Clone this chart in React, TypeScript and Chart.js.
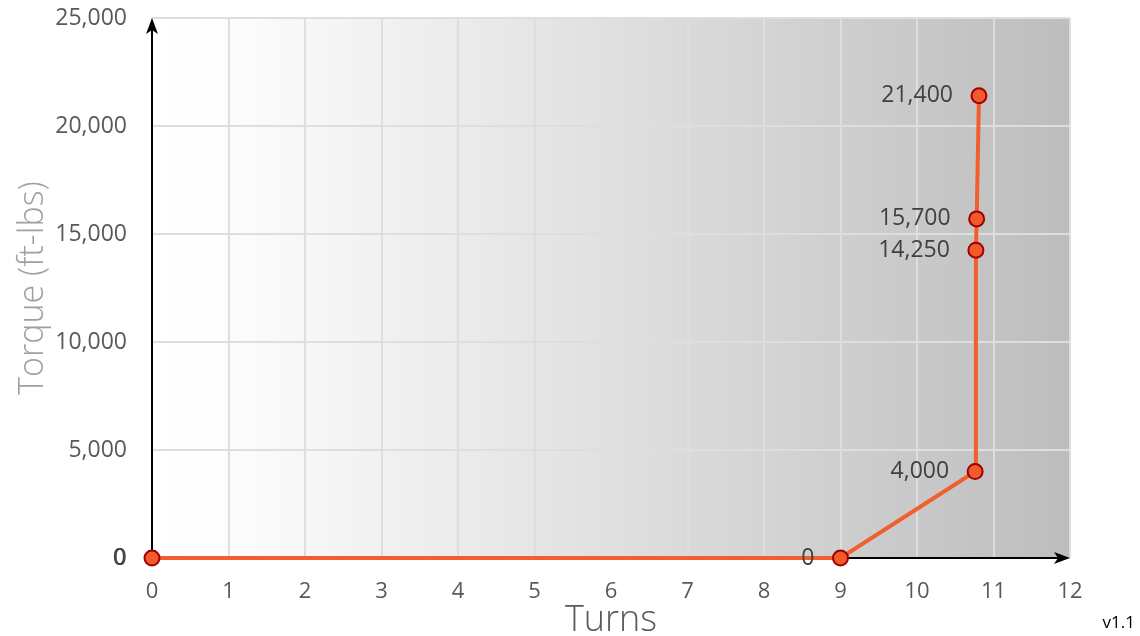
import React, { useEffect, useRef } from "react";
import { Chart, registerables } from "chart.js";

Chart.register(...registerables);

const turns = [0, 9, 10.76, 10.77, 10.78, 10.81];
const torque = [0, 0, 4000, 14250, 15700, 21400];
const xTicks = [0, 1, 2, 3, 4, 5, 6, 7, 8, 9, 10, 11, 12];
const yTicks = [0, 5000, 10000, 15000, 20000, 25000];
const xTitle = "Turns";
const yTitle = "Torque (ft-lbs)";
const versionText = "v1.1";

const FONT = "'Open Sans', 'DejaVu Sans', sans-serif";

const bgPlugin = {
  id: "bgGradient",
  beforeDraw(chart: any) {
    const { ctx, chartArea: a } = chart;
    ctx.save();
    const g = ctx.createLinearGradient(a.left, 0, a.right, 0);
    g.addColorStop(0, "#ffffff");
    g.addColorStop(0.08, "#fdfdfd");
    g.addColorStop(1, "#bdbdbd");
    ctx.fillStyle = g;
    ctx.fillRect(a.left, a.top, a.right - a.left, a.bottom - a.top);
    ctx.restore();
  },
};

const arrowsPlugin = {
  id: "arrows",
  beforeDatasetsDraw(chart: any) {
    const { ctx, chartArea: a } = chart;
    const x0 = chart.scales.x.getPixelForValue(0);
    const y0 = chart.scales.y.getPixelForValue(0);
    ctx.save();
    ctx.strokeStyle = "#000";
    ctx.fillStyle = "#000";
    ctx.lineWidth = 2;
    ctx.beginPath();
    ctx.moveTo(x0, y0);
    ctx.lineTo(x0, a.top + 10);
    ctx.moveTo(x0, y0);
    ctx.lineTo(a.right - 10, y0);
    ctx.stroke();
    ctx.beginPath();
    ctx.moveTo(x0, a.top);
    ctx.lineTo(x0 - 6, a.top + 16);
    ctx.lineTo(x0, a.top + 12);
    ctx.lineTo(x0 + 6, a.top + 16);
    ctx.closePath();
    ctx.fill();
    ctx.beginPath();
    ctx.moveTo(a.right, y0);
    ctx.lineTo(a.right - 16, y0 - 6);
    ctx.lineTo(a.right - 12, y0);
    ctx.lineTo(a.right - 16, y0 + 6);
    ctx.closePath();
    ctx.fill();
    ctx.restore();
  },
};

const labelsPlugin = {
  id: "labels",
  afterDatasetsDraw(chart: any) {
    const { ctx, chartArea: a } = chart;
    const meta = chart.getDatasetMeta(0);
    ctx.save();
    ctx.font = `23px ${FONT}`;
    ctx.fillStyle = "#404040";
    ctx.textAlign = "right";
    ctx.textBaseline = "middle";
    meta.data.forEach((pt: any, i: number) => {
      ctx.fillText(torque[i].toLocaleString("en-US"), pt.x - 26, pt.y);
    });
    ctx.fillStyle = "#595959";
    ctx.font = `300 36px ${FONT}`;
    ctx.textAlign = "center";
    ctx.textBaseline = "alphabetic";
    ctx.fillText(xTitle, (a.left + a.right) / 2, 631);
    ctx.save();
    ctx.translate(43, 288);
    ctx.rotate(-Math.PI / 2);
    ctx.fillStyle = "#a0a0a0";
    ctx.font = `300 34px ${FONT}`;
    ctx.fillText(yTitle, 0, 0);
    ctx.restore();
    ctx.fillStyle = "#000";
    ctx.font = `17px ${FONT}`;
    ctx.textAlign = "right";
    ctx.fillText(versionText, 1135, 628);
    ctx.restore();
  },
};

export default function App() {
  const ref = useRef<HTMLCanvasElement>(null);
  useEffect(() => {
    document.body.style.margin = "0";
    const chart = new Chart(ref.current as HTMLCanvasElement, {
      type: "scatter",
      data: {
        datasets: [
          {
            data: turns.map((t, i) => ({ x: t, y: torque[i] })),
            showLine: true,
            clip: false,
            borderColor: "#f15f2f",
            borderWidth: 4,
            pointRadius: 7.5,
            pointBorderWidth: 2,
            pointBackgroundColor: "#f15a2b",
            pointBorderColor: "#a00000",
          },
        ],
      },
      options: {
        responsive: false,
        animation: false,
        devicePixelRatio: 1,
        layout: { padding: { top: 18, right: 70, left: 0, bottom: 0 } },
        plugins: { legend: { display: false }, tooltip: { enabled: false } },
        scales: {
          x: {
            type: "linear",
            min: 0,
            max: 12,
            afterBuildTicks: (s: any) => {
              s.ticks = xTicks.map((v) => ({ value: v }));
            },
            afterFit: (s: any) => {
              s.height = 78;
              s.paddingLeft = 0;
              s.paddingRight = 0;
            },
            grid: { color: "#dedede", lineWidth: 2, drawTicks: false },
            border: { display: false },
            ticks: {
              color: "#595959",
              font: { size: 22, family: FONT },
              padding: 21,
            },
          },
          y: {
            type: "linear",
            min: 0,
            max: 25000,
            afterBuildTicks: (s: any) => {
              s.ticks = yTicks.map((v) => ({ value: v }));
            },
            afterFit: (s: any) => {
              s.width = 152;
              s.paddingTop = 0;
              s.paddingBottom = 0;
            },
            grid: { color: "#dedede", lineWidth: 2, drawTicks: false },
            border: { display: false },
            ticks: {
              color: "#595959",
              font: { size: 23, family: FONT },
              padding: 25,
              callback: (v: any) => Number(v).toLocaleString("en-US"),
            },
          },
        },
      },
      plugins: [bgPlugin, arrowsPlugin, labelsPlugin],
    });
    return () => chart.destroy();
  }, []);
  return (
    <div style={{ position: "absolute", left: 0, top: 0, width: 1140, height: 636 }}>
      <canvas ref={ref} width={1140} height={636} />
    </div>
  );
}
